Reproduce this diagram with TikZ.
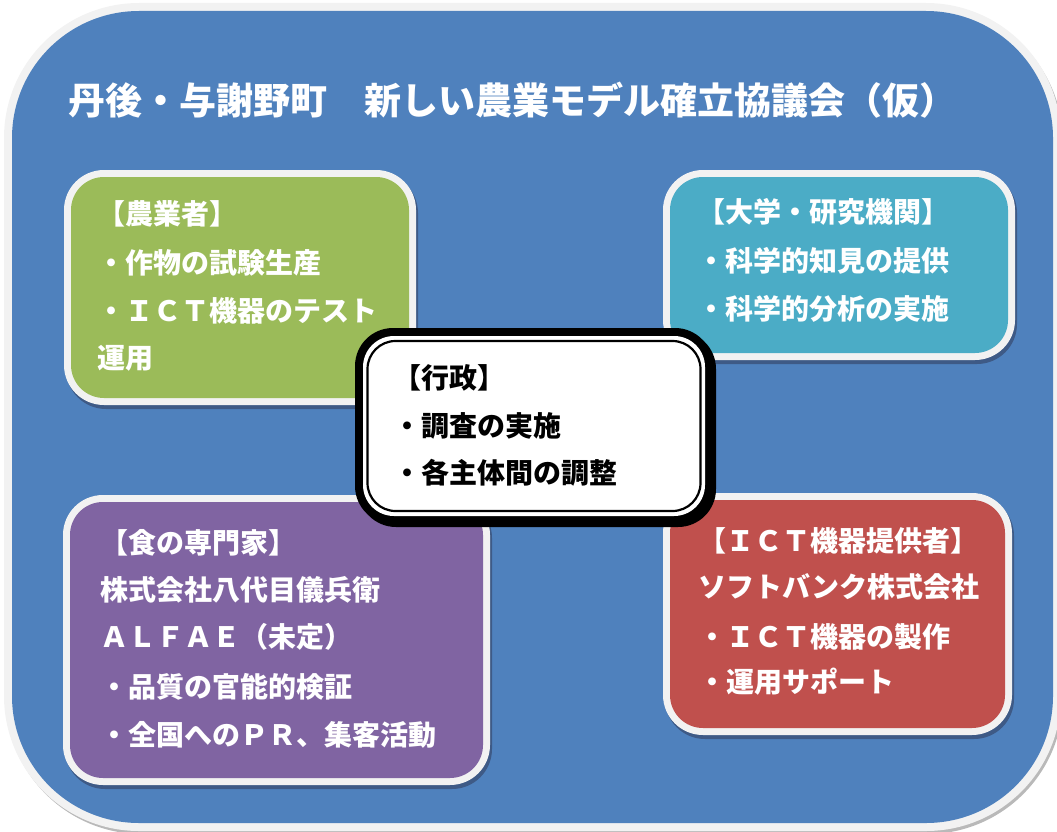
\documentclass[tikz,border=0pt]{standalone}
\usepackage{fontspec}
\newfontfamily\jp{Noto Sans CJK JP}
\definecolor{bgblue}{HTML}{4F81BD}
\definecolor{edgegray}{HTML}{F2F2F2}
\definecolor{grn}{HTML}{9BBB59}
\definecolor{tea}{HTML}{4BACC6}
\definecolor{pur}{HTML}{8064A2}
\definecolor{rdd}{HTML}{C0504D}
\definecolor{shd}{HTML}{3E5A86}
\tikzset{
  txt/.style={font={\jp\bfseries\fontsize{28pt}{28pt}\selectfont}, text=white, anchor=base west, inner sep=0pt},
  ctxt/.style={txt, text=black},
  ttl/.style={font={\jp\bfseries\fontsize{37pt}{37pt}\selectfont}, text=white, anchor=base west, inner sep=0pt},
  boxshadow/.style={fill=shd, rounded corners=40pt},
  boxedge/.style={fill=edgegray, rounded corners=40pt},
  boxfill/.style={rounded corners=33pt},
}
\begin{document}
\begin{tikzpicture}[x=1pt,y=-1pt]
\useasboundingbox (0,0) rectangle (1057,832);
% outer panel
\fill[gray!55, rounded corners=136pt] (6,6) rectangle (1063,834);
\fill[edgegray, rounded corners=135pt] (4,3) rectangle (1061,831);
\fill[bgblue, rounded corners=127pt] (12,11) rectangle (1053,823);
\node[ttl] (title) at (68,114) {丹後・与謝野町　新しい農業モデル確立協議会（仮）};

% green box
\fill[boxshadow] (66,173) rectangle (418,409);
\fill[boxedge] (64,170) rectangle (416,405);
\fill[boxfill, grn] (71,177) rectangle (409,398);
\node[txt] (g1) at (97,224.6) {【農業者】};
\node[txt] (g2) at (97,273.6) {・作物の試験生産};
\node[txt] (g3) at (97,321.6) {・ＩＣＴ機器のテスト};
\node[txt] (g4) at (97,368.6) {運用};

% teal box
\fill[boxshadow] (665,173) rectangle (1017,364);
\fill[boxedge] (663,170) rectangle (1015,360);
\fill[boxfill, tea] (670,177) rectangle (1008,353);
\node[txt] (t1) at (697,222.6) {【大学・研究機関】};
\node[txt] (t2) at (697,271.6) {・科学的知見の提供};
\node[txt] (t3) at (697,319.6) {・科学的分析の実施};

% purple box
\fill[boxshadow] (65,498) rectangle (492,789);
\fill[boxedge] (63,495) rectangle (490,785);
\fill[boxfill, pur] (70,502) rectangle (483,778);
\node[txt] (p1) at (100,553.6) {【食の専門家】};
\node[txt] (p2) at (100,600.6) {株式会社八代目儀兵衛};
\node[txt] (p3) at (100,647.6) {ＡＬＦＡＥ（未定）};
\node[txt] (p4) at (100,697.6) {・品質の官能的検証};
\node[txt] (p5) at (100,745.6) {・全国へのＰＲ、集客活動};

% red box
\fill[boxshadow] (665,496) rectangle (1014,739);
\fill[boxedge] (663,493) rectangle (1012,735);
\fill[boxfill, rdd] (670,500) rectangle (1005,728);
\node[txt] (r1) at (698,551.6) {【ＩＣＴ機器提供者】};
\node[txt] (r2) at (698,597.6) {ソフトバンク株式会社};
\node[txt] (r3) at (698,647.6) {・ＩＣＴ機器の製作};
\node[txt] (r4) at (698,692.6) {・運用サポート};

% center box
\fill[black, rounded corners=38pt] (358,331) rectangle (716,527);
\fill[black, rounded corners=38pt] (355,328) rectangle (713,524);
\fill[white, rounded corners=31pt] (363,336) rectangle (705,516);
\draw[black, line width=2.2pt, rounded corners=28pt] (367.5,341) rectangle (700.5,511);
\node[ctxt] (c1) at (393,388.6) {【行政】};
\node[ctxt] (c2) at (393,436.6) {・調査の実施};
\node[ctxt] (c3) at (393,483.6) {・各主体間の調整};
\end{tikzpicture}
\end{document}
